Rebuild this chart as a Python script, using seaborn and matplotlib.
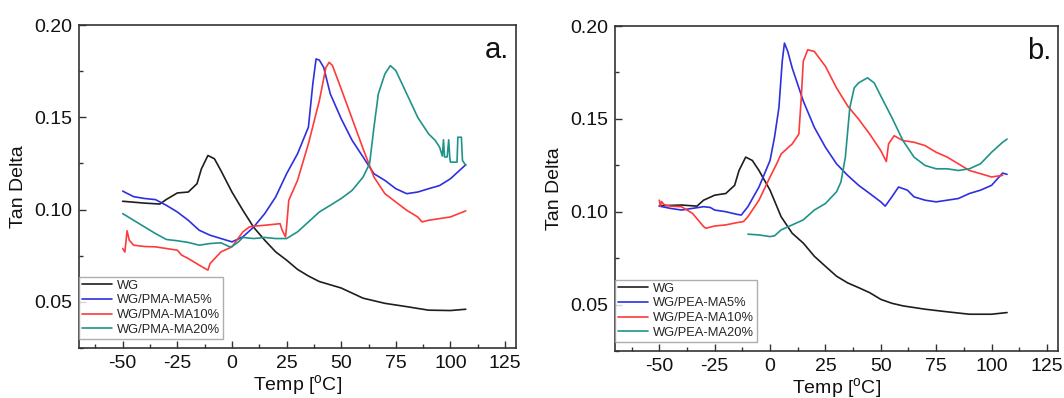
import numpy as np
import pandas as pd
import matplotlib
matplotlib.use("Agg")
import matplotlib.pyplot as plt
import seaborn as sns
from matplotlib.ticker import MultipleLocator

# ---------------- Panel a: WG / PMA-MA ----------------
a_wg_t = [-50, -45, -40, -33, -30, -25, -20, -16, -14, -11, -8, -5, 0, 5, 10, 15, 20, 25, 30, 35, 40, 50, 60, 70, 80, 90, 100, 107]
a_wg_v = [0.1045, 0.1040, 0.1035, 0.1030, 0.1055, 0.1090, 0.1095, 0.1140, 0.1220, 0.1293, 0.1275, 0.1210, 0.1095, 0.0996, 0.0903, 0.0834, 0.0771, 0.0726, 0.0676, 0.0640, 0.0610, 0.0575, 0.0520, 0.0492, 0.0474, 0.0455, 0.0453, 0.0460]

a_5_t = [-50, -45, -40, -35, -30, -25, -20, -15, -10, -5, 0, 5, 10, 15, 20, 25, 30, 35, 37, 38.5, 40, 42, 45, 50, 55, 60, 65, 70, 75, 80, 85, 90, 95, 100, 107]
a_5_v = [0.1100, 0.1070, 0.1060, 0.1054, 0.1023, 0.0987, 0.0942, 0.0888, 0.0861, 0.0843, 0.0825, 0.0852, 0.0906, 0.0978, 0.1068, 0.1194, 0.1302, 0.1447, 0.1680, 0.1816, 0.1810, 0.1770, 0.1627, 0.1492, 0.1375, 0.1285, 0.1194, 0.1158, 0.1113, 0.1086, 0.1095, 0.1113, 0.1130, 0.1167, 0.1243]

a_10_t = [-50, -49, -48, -47, -45, -40, -35, -30, -25, -23, -20, -15, -11, -10, -5, 0, 5, 8, 10, 15, 20, 22, 23, 24.5, 25, 26, 30, 35, 40, 43, 44.5, 46, 50, 55, 60, 65, 70, 75, 80, 85, 87, 90, 95, 100, 107]
a_10_v = [0.0789, 0.0770, 0.0885, 0.0834, 0.0807, 0.0800, 0.0798, 0.0789, 0.0780, 0.0753, 0.0735, 0.0699, 0.0672, 0.0708, 0.0771, 0.0798, 0.0879, 0.0906, 0.0910, 0.0915, 0.0921, 0.0924, 0.0888, 0.0852, 0.0906, 0.1050, 0.1158, 0.1357, 0.1590, 0.1770, 0.1798, 0.1780, 0.1654, 0.1492, 0.1330, 0.1176, 0.1086, 0.1041, 0.0996, 0.0960, 0.0933, 0.0942, 0.0951, 0.0960, 0.0993]

a_20_t = [-50, -45, -40, -35, -30, -25, -20, -15, -10, -5, -1, 0, 3, 5, 10, 15, 20, 25, 30, 35, 40, 45, 50, 55, 60, 63, 65, 67, 70, 72.5, 75, 80, 85, 90, 93, 95, 96.3, 96.8, 97.3, 98.5, 99.2, 99.7, 100, 103, 103.4, 105, 105.5, 107]
a_20_v = [0.0978, 0.0942, 0.0906, 0.0870, 0.0838, 0.0831, 0.0822, 0.0807, 0.0816, 0.0820, 0.0798, 0.0800, 0.0825, 0.0849, 0.0843, 0.0849, 0.0843, 0.0843, 0.0879, 0.0933, 0.0987, 0.1023, 0.1060, 0.1104, 0.1176, 0.1249, 0.1447, 0.1627, 0.1735, 0.1780, 0.1753, 0.1627, 0.1500, 0.1410, 0.1375, 0.1339, 0.1290, 0.1378, 0.1285, 0.1285, 0.1378, 0.1280, 0.1257, 0.1257, 0.1392, 0.1392, 0.1266, 0.1240]

# ---------------- Panel b: WG / PEA-MA ----------------
b_wg_t = [-50, -40, -33, -30, -25, -20, -16, -14, -11, -8, -5, 0, 5, 10, 15, 20, 25, 30, 35, 40, 45, 50, 55, 60, 70, 80, 90, 100, 107]
b_wg_v = [0.1032, 0.1036, 0.1030, 0.1062, 0.1089, 0.1098, 0.1142, 0.1222, 0.1294, 0.1276, 0.1222, 0.1116, 0.0973, 0.0884, 0.0831, 0.0760, 0.0706, 0.0653, 0.0617, 0.0591, 0.0564, 0.0528, 0.0507, 0.0493, 0.0475, 0.0461, 0.0448, 0.0448, 0.0457]

b_5_t = [-50, -45, -40, -35, -30, -27, -25, -20, -15, -13, -10, -5, 0, 2, 4, 5.5, 6.5, 8, 10, 15, 20, 25, 30, 35, 40, 45, 50, 52, 55, 58, 62, 65, 70, 75, 80, 85, 90, 95, 100, 105, 107]
b_5_v = [0.1030, 0.1018, 0.1009, 0.1018, 0.1027, 0.1023, 0.1009, 0.1000, 0.0986, 0.0982, 0.1027, 0.1133, 0.1276, 0.1400, 0.1560, 0.1810, 0.1908, 0.1863, 0.1774, 0.1596, 0.1454, 0.1347, 0.1258, 0.1196, 0.1142, 0.1098, 0.1053, 0.1030, 0.1080, 0.1133, 0.1116, 0.1080, 0.1062, 0.1053, 0.1062, 0.1071, 0.1098, 0.1116, 0.1142, 0.1208, 0.1201]

b_10_t = [-50, -49.5, -49, -48, -47, -45, -40, -35, -30, -29, -25, -20, -15, -12, -10, -5, 0, 3, 5, 10, 13, 14, 15, 17, 20, 25, 30, 35, 40, 45, 50, 52.5, 53.5, 56, 60, 65, 70, 75, 80, 85, 90, 95, 100, 105]
b_10_v = [0.1062, 0.1030, 0.1055, 0.1040, 0.1035, 0.1030, 0.1027, 0.0991, 0.0920, 0.0911, 0.0923, 0.0929, 0.0941, 0.0947, 0.0973, 0.1062, 0.1187, 0.1258, 0.1311, 0.1365, 0.1418, 0.1596, 0.1810, 0.1872, 0.1863, 0.1783, 0.1667, 0.1570, 0.1498, 0.1418, 0.1329, 0.1270, 0.1365, 0.1409, 0.1383, 0.1374, 0.1356, 0.1320, 0.1294, 0.1258, 0.1222, 0.1205, 0.1187, 0.1196]

b_20_t = [-10, -5, 0, 2, 5, 10, 15, 20, 25, 30, 32, 34, 36, 38, 40, 44, 47, 50, 55, 60, 65, 70, 75, 80, 85, 90, 95, 100, 105, 107]
b_20_v = [0.0879, 0.0875, 0.0866, 0.0870, 0.0902, 0.0929, 0.0956, 0.1009, 0.1044, 0.1107, 0.1160, 0.1294, 0.1560, 0.1667, 0.1694, 0.1721, 0.1694, 0.1623, 0.1507, 0.1383, 0.1294, 0.1249, 0.1231, 0.1231, 0.1222, 0.1231, 0.1258, 0.1320, 0.1374, 0.1391]

labels_a = ["WG", "WG/PMA-MA5%", "WG/PMA-MA10%", "WG/PMA-MA20%"]
labels_b = ["WG", "WG/PEA-MA5%", "WG/PEA-MA10%", "WG/PEA-MA20%"]
x_ticks = [-50, -25, 0, 25, 50, 75, 100, 125]
y_ticks = [0.05, 0.10, 0.15, 0.20]

colors = ["#1e1e1e", "#2f2fe0", "#ff3a3a", "#1f938a"]

sns.set_style("ticks")
plt.rcParams["font.family"] = ["Liberation Sans", "DejaVu Sans"]
plt.rcParams["mathtext.fontset"] = "custom"
plt.rcParams["mathtext.rm"] = "Liberation Sans"


def build(series, labels):
    frames = []
    for (t, v), lab in zip(series, labels):
        frames.append(pd.DataFrame({"Temp": t, "Tan": v, "Sample": lab}))
    return pd.concat(frames, ignore_index=True)


fig = plt.figure(figsize=(10.64, 3.98), dpi=100)
ax_a = fig.add_axes([79 / 1064, 50 / 398, 437 / 1064, 323 / 398])
ax_b = fig.add_axes([615 / 1064, 47 / 398, 443 / 1064, 325 / 398])

panels = [
    (ax_a, build([(a_wg_t, a_wg_v), (a_5_t, a_5_v), (a_10_t, a_10_v), (a_20_t, a_20_v)], labels_a), labels_a, "a."),
    (ax_b, build([(b_wg_t, b_wg_v), (b_5_t, b_5_v), (b_10_t, b_10_v), (b_20_t, b_20_v)], labels_b), labels_b, "b."),
]

for ax, df, labels, tag in panels:
    sns.lineplot(data=df, x="Temp", y="Tan", hue="Sample", hue_order=labels,
                 palette=dict(zip(labels, colors)), estimator=None, sort=False,
                 units="Sample", linewidth=1.2, ax=ax)
    ax.set_xlim(-70, 130)
    ax.set_ylim(0.025, 0.20)
    ax.set_xticks(x_ticks)
    ax.set_xticklabels([str(v) for v in x_ticks])
    ax.set_yticks(y_ticks)
    ax.set_yticklabels([f"{v:.2f}" for v in y_ticks])
    ax.xaxis.set_minor_locator(MultipleLocator(12.5))
    ax.yaxis.set_minor_locator(MultipleLocator(0.025))
    ax.tick_params(axis="both", which="major", direction="in", length=5, width=1,
                   labelsize=14, pad=5, color="#333333", labelcolor="#111111")
    ax.tick_params(axis="both", which="minor", direction="in", length=3, width=1, color="#333333")
    for s in ax.spines.values():
        s.set_visible(True)
        s.set_color("#333333")
        s.set_linewidth(1.2)
    ax.set_xlabel("Temp [$\\mathregular{^o}$C]", fontsize=14, labelpad=0.5, color="#111111")
    ax.set_ylabel("Tan Delta", fontsize=14, labelpad=5, color="#111111")
    ax.text(0.985, 0.965, tag, transform=ax.transAxes, ha="right", va="top", fontsize=21, color="#111111")
    leg = ax.legend(loc="lower left", bbox_to_anchor=(0.0, 0.028), borderaxespad=0,
                    fontsize=9.3, frameon=True, fancybox=False, edgecolor="#9a9a9a",
                    handlelength=2.3, labelspacing=0.2, borderpad=0.25, handletextpad=0.4,
                    title=None)
    leg.get_frame().set_linewidth(1.0)
    for ln in leg.get_lines():
        ln.set_linewidth(1.2)

fig.savefig("out.png", dpi=100)
